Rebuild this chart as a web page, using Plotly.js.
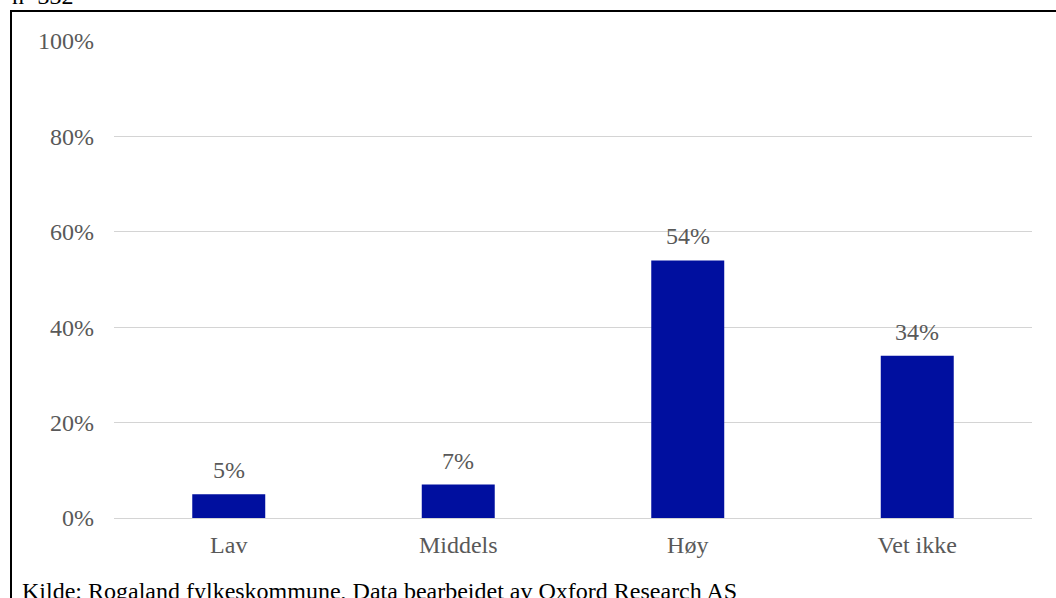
<!DOCTYPE html>
<html>
<head>
<meta charset="utf-8">
<script src="https://cdn.plot.ly/plotly-3.0.1.min.js"></script>
<style>
html,body{margin:0;padding:0;background:#fff;}
#chart{width:1056px;height:598px;}
</style>
</head>
<body>
<div id="chart"></div>
<script>
var categories = ["Lav", "Middels", "Høy", "Vet ikke"];
var values = [0.05, 0.07, 0.54, 0.34];
var valueLabels = ["5%", "7%", "54%", "34%"];
var yTickVals = [0, 0.2, 0.4, 0.6, 0.8, 1.0];
var yTickText = ["0%", "20%", "40%", "60%", "80%", "100%"];
var sampleNote = "n=332";
var sourceNote = "Kilde: Rogaland fylkeskommune, Data bearbeidet av Oxford Research AS";

var fontFam = "Liberation Serif, Times New Roman, serif";
var grey = "#595959";

var trace = {
  type: "bar",
  x: categories,
  y: values,
  marker: {color: "#000F9F"},
  hoverinfo: "skip"
};

var annotations = categories.map(function(c, i){
  return {x: c, y: values[i], xref: "x", yref: "y", text: valueLabels[i],
    showarrow: false, yanchor: "bottom", yshift: 9,
    font: {family: fontFam, size: 24, color: grey}};
});
annotations.push({x: -0.113, y: 1.062, xref: "paper", yref: "paper", text: sampleNote,
  showarrow: false, xanchor: "left", yanchor: "bottom", font: {family: fontFam, size: 24, color: "#000"}});
annotations.push({x: -0.102, y: -0.122, xref: "paper", yref: "paper", text: sourceNote,
  showarrow: false, xanchor: "left", yanchor: "top", font: {family: fontFam, size: 24, color: "#000"}});

var layout = {
  width: 1056, height: 598,
  margin: {l: 114, r: 24, t: 41, b: 80, pad: 0},
  paper_bgcolor: "#fff", plot_bgcolor: "#fff",
  showlegend: false,
  bargap: 0.682,
  font: {family: fontFam, size: 24, color: grey},
  xaxis: {
    type: "category",
    showgrid: false, showline: false, zeroline: false,
    ticks: "", tickfont: {family: fontFam, size: 24, color: grey},
    ticklabelstandoff: 10
  },
  yaxis: {
    range: [0, 1.0], tickvals: yTickVals, ticktext: yTickText,
    showgrid: true, gridcolor: "#d4d4d4", gridwidth: 1,
    zeroline: true, zerolinecolor: "#d4d4d4", zerolinewidth: 1,
    showline: false, ticks: "",
    tickfont: {family: fontFam, size: 24, color: grey},
    ticklabelstandoff: 19
  },
  shapes: [{
    type: "rect", xref: "paper", yref: "paper",
    x0: -0.1122, x1: 1.2, y0: -0.3, y1: 1.0629,
    line: {color: "#000", width: 2}, fillcolor: "rgba(0,0,0,0)", layer: "above"
  }],
  annotations: annotations
};

Plotly.newPlot("chart", [trace], layout, {displayModeBar: false, staticPlot: true});
</script>
</body>
</html>
